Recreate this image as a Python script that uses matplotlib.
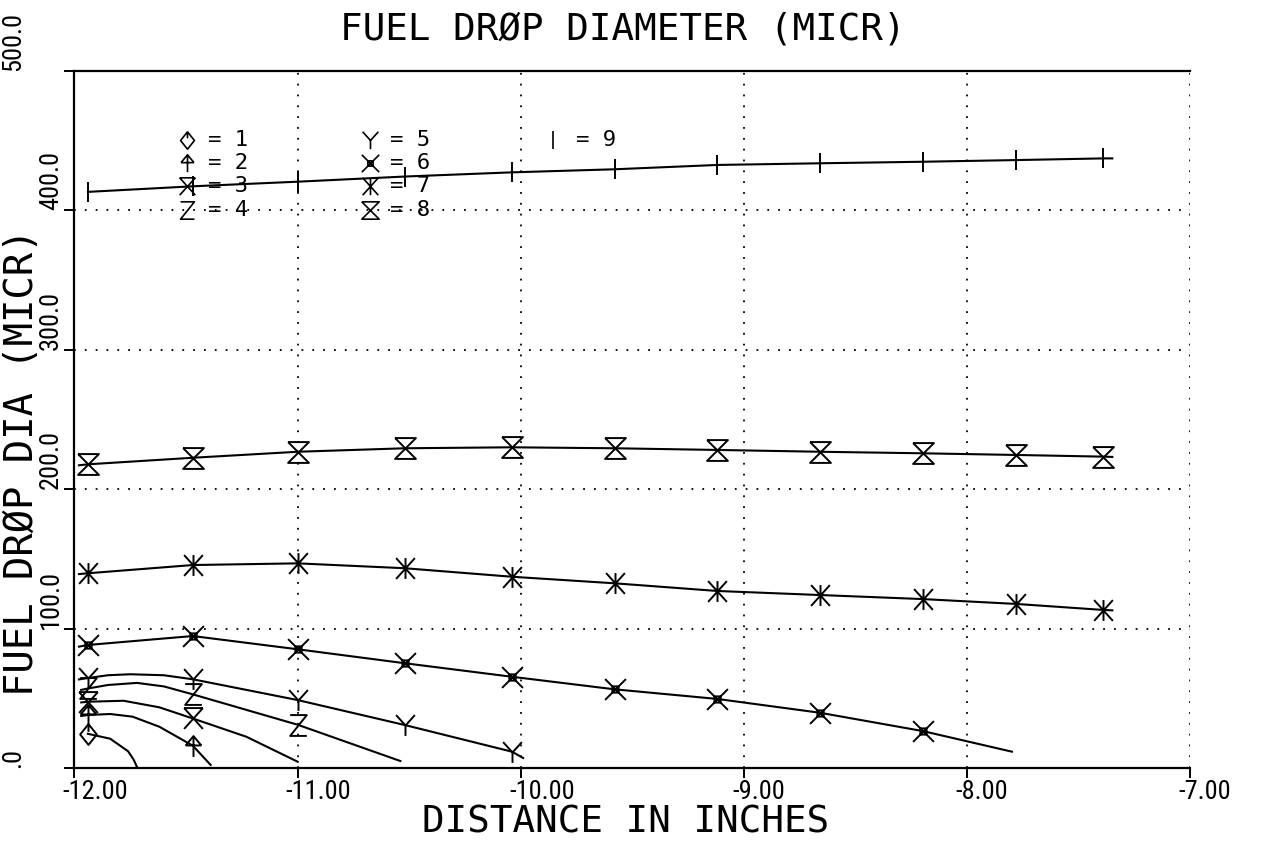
import matplotlib
matplotlib.use("Agg")
import matplotlib.pyplot as plt
import matplotlib.font_manager as fm
from matplotlib.font_manager import FontProperties
from matplotlib.path import Path
from matplotlib.transforms import ScaledTranslation

# ---------------- data ----------------
MARK_X = [-11.94, -11.47, -11.00, -10.52, -10.04, -9.58, -9.12, -8.66, -8.20, -7.78, -7.39]

S1_LX = [-11.94, -11.84, -11.76, -11.735, -11.72]
S1_LY = [24.5, 21.0, 12.0, 6.0, 0.7]
S1_MY = [24.5]

S2_LX = [-11.97, -11.94, -11.84, -11.74, -11.62, -11.47, -11.39]
S2_LY = [37.3, 38.0, 38.7, 36.8, 29.6, 16.0, 2.2]
S2_MY = [38.0, 16.0]

S3_LX = [-11.97, -11.94, -11.78, -11.62, -11.47, -11.23, -11.00]
S3_LY = [47.0, 47.5, 48.2, 43.5, 35.5, 22.4, 4.5]
S3_MY = [47.5, 35.5]

S4_LX = [-11.97, -11.94, -11.85, -11.72, -11.60, -11.47, -11.00, -10.54]
S4_LY = [56.0, 57.0, 59.5, 61.0, 58.5, 52.8, 31.0, 5.0]
S4_MY = [57.0, 52.8, 31.0]

S5_LX = [-11.98, -11.94, -11.85, -11.75, -11.60, -11.47, -11.00, -10.52, -10.04, -9.99]
S5_LY = [63.5, 64.5, 66.5, 67.2, 66.5, 63.6, 48.7, 30.8, 11.7, 7.2]
S5_MY = [64.5, 63.6, 48.7, 30.8, 11.7]

S6_MY = [88.2, 94.6, 85.1, 75.1, 65.4, 56.4, 49.5, 39.6, 26.5]
S6_START = (-11.98, 87.0)
S6_END = (-7.80, 11.7)

S7_MY = [139.6, 145.5, 146.7, 143.2, 137.1, 132.4, 126.9, 124.0, 121.1, 117.6, 113.3]
S7_START = (-11.98, 139.0)
S7_END = (-7.35, 113.0)

S8_MY = [217.7, 222.4, 226.7, 229.2, 229.9, 229.2, 228.0, 226.7, 225.6, 224.4, 223.2]
S8_START = (-11.98, 217.0)
S8_END = (-7.35, 223.0)

S9_MY = [413.0, 417.0, 420.3, 424.0, 427.0, 429.2, 432.3, 433.5, 434.6, 435.8, 437.0]
S9_END = (-7.35, 437.0)

X_TICKS = [-12, -11, -10, -9, -8, -7]
X_TICKLABELS = ["-12.00", "-11.00", "-10.00", "-9.00", "-8.00", "-7.00"]
Y_TICKS = [0, 100, 200, 300, 400, 500]
Y_TICKLABELS = [".0", "100.0", "200.0", "300.0", "400.0", "500.0"]
LEGEND_LABELS = ["= 1", "= 2", "= 3", "= 4", "= 5", "= 6", "= 7", "= 8", "= 9"]

TITLE = "FUEL DRØP DIAMETER (MICR)"
XLABEL = "DISTANCE IN INCHES"
YLABEL = "FUEL DRØP DIA (MICR)"


# ---------------- fonts ----------------
def narrow_font():
    names = {f.name for f in fm.fontManager.ttflist}
    for n in ["Liberation Sans Narrow", "Roboto Condensed", "Noto Sans Condensed",
              "Open Sans Condensed", "DejaVu Sans Condensed"]:
        if n in names:
            return FontProperties(family=n, size=19)
    for f in fm.fontManager.ttflist:
        if f.stretch in ("condensed", "semi-condensed", "extra-condensed") \
                and f.style == "normal" and f.weight in (400, "normal", "regular"):
            return FontProperties(family=f.name, stretch=f.stretch, size=19)
    return FontProperties(family="DejaVu Sans Mono", size=14)


TICK_FP = narrow_font()
MONO = ["DejaVu Sans Mono", "DejaVu Sans"]


# ---------------- plotter-style symbols ----------------
def seg_path(polys):
    verts, codes = [], []
    for poly in polys:
        for i, p in enumerate(poly):
            verts.append(p)
            codes.append(Path.MOVETO if i == 0 else Path.LINETO)
    return Path(verts, codes)


SYM = {
    1: seg_path([[(0, 1), (0.8, 0), (0, -1), (-0.8, 0), (0, 1)], [(0, 0.25), (0, 1)]]),
    2: seg_path([[(0, -1), (0, 1)], [(-0.75, 0.1), (0.75, 0.1)],
                 [(-0.75, 0.1), (0, 1), (0.75, 0.1)]]),
    3: seg_path([[(-0.9, 1), (0.9, 1)], [(-0.9, 1), (0.9, -1)], [(0.9, 1), (-0.9, -1)]]),
    4: seg_path([[(-0.8, 1), (0.8, 1), (-0.8, -1), (0.8, -1)]]),
    5: seg_path([[(-0.9, 1), (0, 0)], [(0.9, 1), (0, 0), (0, -1)]]),
    6: seg_path([[(-1, -1), (1, 1)], [(-1, 1), (1, -1)],
                 [(-0.3, -0.3), (0.3, -0.3), (0.3, 0.3), (-0.3, 0.3), (-0.3, -0.3)]]),
    7: seg_path([[(-0.9, -1), (0.9, 1)], [(-0.9, 1), (0.9, -1)], [(0, -1), (0, 1)]]),
    8: seg_path([[(-1, 1), (1, 1), (-1, -1), (1, -1), (-1, 1)]]),
    9: seg_path([[(0, -1), (0, 1)]]),
}

fig = plt.figure(figsize=(12.68, 8.44), dpi=100)
ax = fig.add_axes([0.05875, 0.09005, 0.8801, 0.8264])
ax.set_xlim(-12, -7)
ax.set_ylim(0, 500)

LW = 1.5
MS = 15
MEW = 1.4


def draw(lx, ly, mx, my, sym):
    ax.plot(lx, ly, color="k", lw=LW, solid_joinstyle="round", clip_on=False, zorder=3)
    ax.plot(mx, my, linestyle="none", marker=SYM[sym], ms=MS, mew=MEW,
            mfc="none", mec="k", clip_on=False, zorder=4)


draw(S1_LX, S1_LY, MARK_X[:1], S1_MY, 1)
draw(S2_LX, S2_LY, MARK_X[:2], S2_MY, 2)
draw(S3_LX, S3_LY, MARK_X[:2], S3_MY, 3)
draw(S4_LX, S4_LY, MARK_X[:3], S4_MY, 4)
draw(S5_LX, S5_LY, MARK_X[:5], S5_MY, 5)
draw([S6_START[0]] + MARK_X[:9] + [S6_END[0]], [S6_START[1]] + S6_MY + [S6_END[1]],
     MARK_X[:9], S6_MY, 6)
draw([S7_START[0]] + MARK_X + [S7_END[0]], [S7_START[1]] + S7_MY + [S7_END[1]],
     MARK_X, S7_MY, 7)
draw([S8_START[0]] + MARK_X + [S8_END[0]], [S8_START[1]] + S8_MY + [S8_END[1]],
     MARK_X, S8_MY, 8)
draw(MARK_X + [S9_END[0]], S9_MY + [S9_END[1]], MARK_X, S9_MY, 9)

# grid
ax.set_xticks(X_TICKS)
ax.set_yticks(Y_TICKS)
ax.grid(True, color="k", lw=1.3, linestyle=(0, (1, 5)))
ax.set_axisbelow(True)

# spines
for s in ("left", "bottom", "top"):
    ax.spines[s].set_linewidth(1.6)
ax.spines["right"].set_visible(False)
ax.tick_params(axis="both", direction="out", length=7, width=1.4,
               top=False, right=False)

# x tick labels (left-aligned, starting just left of each tick)
ax.set_xticklabels([""] * len(X_TICKS))
xtr = ax.get_xaxis_transform() + ScaledTranslation(-12 / 100, -12 / 100, fig.dpi_scale_trans)
for v, lab in zip(X_TICKS, X_TICKLABELS):
    ax.text(v, 0, lab, transform=xtr, ha="left", va="top",
            fontproperties=TICK_FP, clip_on=False)

# y tick labels (rotated, starting at tick)
ax.set_yticklabels([""] * len(Y_TICKS))
ytr = ax.get_yaxis_transform()
for v, lab in zip(Y_TICKS, Y_TICKLABELS):
    xo = -0.055 if v in (0, 500) else -0.021
    ax.text(xo, v, lab, transform=ytr, rotation=90, ha="center", va="bottom",
            fontproperties=TICK_FP, clip_on=False)

# legend block
ROW_Y = [450, 434, 417, 400]
COL_SYM_X = [-11.496, -10.676, -9.856]
COL_TXT_X = [-11.40, -10.585, -9.755]
for i, lab in enumerate(LEGEND_LABELS):
    col, row = divmod(i, 4)
    ax.plot([COL_SYM_X[col]], [ROW_Y[row]], linestyle="none", marker=SYM[i + 1],
            ms=12.5, mew=1.2, mfc="none", mec="k", zorder=5)
    ax.text(COL_TXT_X[col], ROW_Y[row], lab, ha="left", va="center",
            family=MONO, fontsize=16, zorder=5)

# titles
fig.text(0.4913, 0.9645, TITLE, ha="center", va="center", family=MONO, fontsize=27)
fig.text(0.4937, 0.0249, XLABEL, ha="center", va="center", family=MONO, fontsize=27)
fig.text(0.017, 0.4526, YLABEL, ha="center", va="center", rotation=90,
         family=MONO, fontsize=28)

fig.savefig("out.png", dpi=100, facecolor="white")
